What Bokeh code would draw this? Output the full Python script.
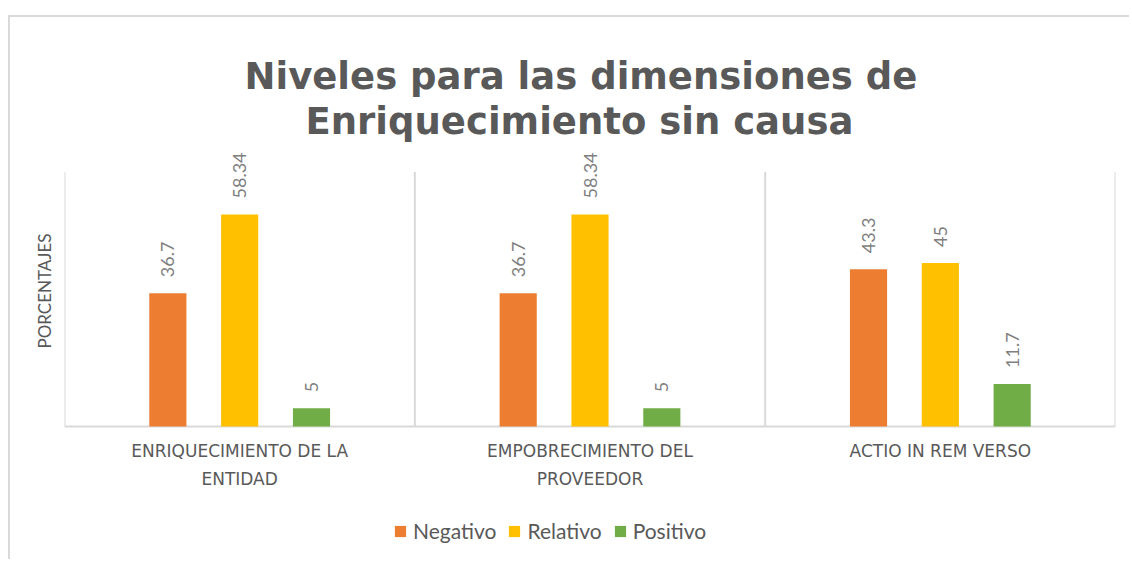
import math
from bokeh.plotting import figure
from bokeh.models import (FactorRange, Range1d, ColumnDataSource, Title,
                          Legend, LegendItem)
from bokeh.transform import dodge
from bokeh.core.properties import value
from bokeh.embed import file_html
from bokeh.resources import INLINE

# ---------------- data ----------------
categories = ["ENRIQUECIMIENTO DE LA\nENTIDAD",
              "EMPOBRECIMIENTO DEL\nPROVEEDOR",
              "ACTIO IN REM VERSO"]
series_names = ["Negativo", "Relativo", "Positivo"]
negativo = [36.7, 36.7, 43.3]
relativo = [58.34, 58.34, 45]
positivo = [5, 5, 11.7]
series_colors = ["#ED7D31", "#FFC000", "#70AD47"]
title_lines = ["Niveles para las dimensiones de", "Enriquecimiento sin causa"]
y_label = "PORCENTAJES"
y_axis_max = 70        # value axis maximum (gridline height)

# ---------------- layout constants ----------------
W, H = 1121, 544
MB_L, MB_R, MB_T, MB_B = 54, 16, 125, 0
FRAME_H = H - MB_T - MB_B
PX_PER_UNIT = 3.634
BASE_PX = 284                      # baseline distance below frame top
Y_TOP = BASE_PX / PX_PER_UNIT
Y_BOTTOM = -(FRAME_H - BASE_PX) / PX_PER_UNIT
LABEL_GAP_PX = 16
CAT_LABEL_PX = 14
BAR_W = 0.106
OFFSETS = [-0.205, 0.0, 0.205]
TITLE_OFFSETS = [180, 241]          # left indent of each title line
GRID_C = "#d9d9d9"
TEXT_C = "#595959"

values_by_series = [negativo, relativo, positivo]
data = {"cat": categories}
for name, vals in zip(series_names, values_by_series):
    data[name] = vals
    data[name + "_ly"] = [v + LABEL_GAP_PX / PX_PER_UNIT for v in vals]
    data[name + "_txt"] = [f"{v:g}" for v in vals]
src = ColumnDataSource(data)

p = figure(x_range=FactorRange(*categories), y_range=Range1d(Y_BOTTOM, Y_TOP),
           width=W, height=H, output_backend="svg", toolbar_location=None,
           min_border_left=MB_L, min_border_right=MB_R,
           min_border_top=MB_T, min_border_bottom=MB_B)
p.outline_line_color = None
p.xgrid.visible = False
p.ygrid.visible = False
p.xaxis.visible = False
p.yaxis.visible = False
p.background_fill_color = "white"
p.border_fill_color = "white"
p.styles = {"border-top": f"2px solid {GRID_C}", "border-left": f"2px solid {GRID_C}"}
p.margin = (15, 0, 0, 8)

# title: two stacked lines (closest to the frame is added first)
for txt, off in reversed(list(zip(title_lines, TITLE_OFFSETS))):
    p.add_layout(Title(text=txt, align="left", offset=off, standoff=0,
                       text_font="DejaVu Sans", text_font_style="bold",
                       text_font_size="37px", text_color=TEXT_C), "above")

# value-axis title
p.add_layout(Title(text=y_label, align="left", offset=213, standoff=20,
                   text_font="Lato", text_font_style="normal",
                   text_font_size="17px", text_color=TEXT_C), "left")

# category boundary lines and base line
bounds = list(range(len(categories) + 1))
p.segment(x0=bounds, y0=[0] * len(bounds), x1=bounds, y1=[y_axis_max] * len(bounds),
          line_color=GRID_C, line_width=2)
p.segment(x0=[bounds[0]], y0=[0], x1=[bounds[-1]], y1=[0],
          line_color=GRID_C, line_width=2)

renderers = []
for name, col, off in zip(series_names, series_colors, OFFSETS):
    r = p.vbar(x=dodge("cat", off, range=p.x_range), top=name, width=BAR_W,
               source=src, fill_color=col, line_color=None)
    renderers.append(r)
    p.text(x=dodge("cat", off, range=p.x_range), y=name + "_ly", text=name + "_txt",
           source=src, angle=math.pi / 2, text_align="left", text_baseline="middle",
           text_font=value("Lato"), text_font_size="18px", text_color="#7f7f7f")

# category labels under the base line
p.text(x=categories, y=[-CAT_LABEL_PX / PX_PER_UNIT] * len(categories), text=categories,
       text_align="center", text_baseline="top", text_font=value("DejaVu Sans"),
       text_font_size="17px", text_color=TEXT_C, text_line_height=1.4)

legend = Legend(items=[LegendItem(label=n, renderers=[r]) for n, r in zip(series_names, renderers)],
                orientation="horizontal", location=(329, 18),
                glyph_width=14, glyph_height=14, label_standoff=6, spacing=11,
                padding=0, margin=0, border_line_color=None, background_fill_alpha=0,
                label_text_font="Lato", label_text_font_size="21px",
                label_text_color=TEXT_C)
p.add_layout(legend, "center")

open("out.html", "w").write(file_html(p, INLINE))
